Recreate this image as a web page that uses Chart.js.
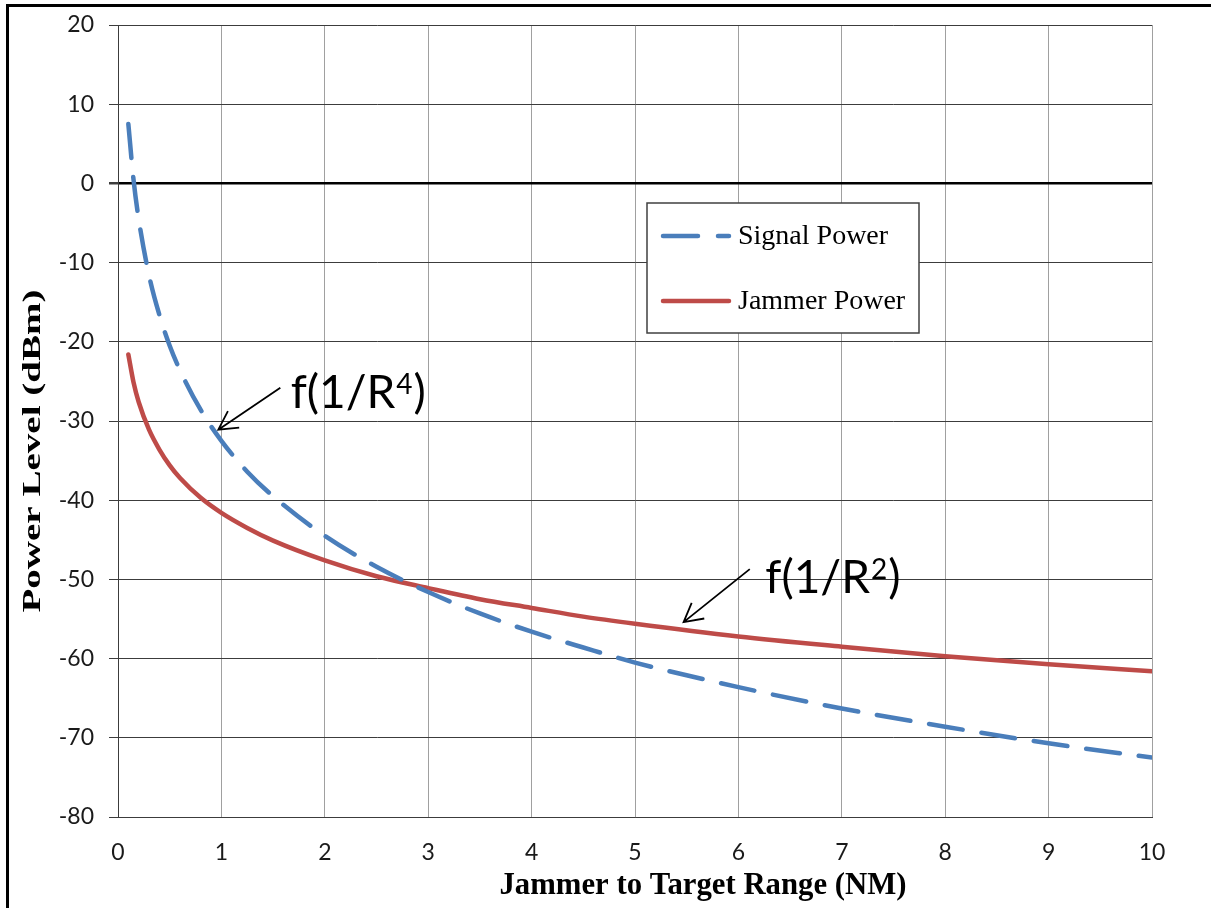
<!DOCTYPE html>
<html>
<head>
<meta charset="utf-8">
<script src="https://cdn.jsdelivr.net/npm/chart.js@4.4.1/dist/chart.umd.min.js"></script>
<style>
  html, body { margin: 0; padding: 0; background: #fff; overflow: hidden; }
  #wrap { position: relative; width: 1211px; height: 908px; }
  #frame { position: absolute; left: 6px; top: 4px; width: 1300px; height: 1000px;
           border-left: 3px solid #000; border-top: 3px solid #000; }
  canvas { position: absolute; left: 0; top: 0; }
</style>
</head>
<body>
<div id="wrap">
  <div id="frame"></div>
  <canvas id="chart" width="1211" height="908"></canvas>
</div>
<script>
// --- DATA ---
const rangeNm   = [0.1, 0.15, 0.2, 0.3, 0.4, 0.5, 0.6, 0.8, 1, 1.25, 1.5, 2, 2.5, 3, 3.5, 4, 4.5, 5, 6, 7, 8, 9, 10];
const signalDbm = [7.5, 0.5, -4.5, -11.6, -16.6, -20.5, -23.6, -28.6, -32.5, -36.4, -39.5, -44.5, -48.4, -51.6, -54.3, -56.6, -58.6, -60.5, -63.6, -66.3, -68.6, -70.7, -72.5];
const jammerDbm = [-21.6, -25.1, -27.6, -31.1, -33.6, -35.6, -37.2, -39.7, -41.6, -43.5, -45.1, -47.6, -49.6, -51.1, -52.5, -53.6, -54.7, -55.6, -57.2, -58.5, -59.7, -60.7, -61.6];
const seriesNames = ['Signal Power', 'Jammer Power'];
const xTickValues = [0, 1, 2, 3, 4, 5, 6, 7, 8, 9, 10];
const yTickValues = [-80, -70, -60, -50, -40, -30, -20, -10, 0, 10, 20];
const xTitle = 'Jammer to Target Range (NM)';
const yTitle = 'Power Level (dBm)';

// annotation callouts, in data units
const callouts = [
    { base: 'f(1/R', sup: '4', textX: 1.67, textY: -28.3, tailX: 1.57, tailY: -25.8, tipX: 0.97, tipY: -31.1 },
    { base: 'f(1/R', sup: '2', textX: 6.26, textY: -51.7, tailX: 6.11, tailY: -48.7, tipX: 5.47, tipY: -55.4 },
];

const BLUE = '#4A7EBB';
const RED = '#BE4B48';
const H_GRID = '#3c3c3c';
const V_GRID = '#a0a0a0';

function toPoints(xs, ys) {
    return xs.map((x, i) => ({ x, y: ys[i] }));
}

// --- CUSTOM DRAWING: legend box, callouts, axis titles ---
function drawArrow(ctx, x1, y1, x2, y2) {
    const ang = Math.atan2(y2 - y1, x2 - x1);
    const head = 21, spread = 0.5;
    ctx.beginPath();
    ctx.moveTo(x1, y1);
    ctx.lineTo(x2, y2);
    ctx.moveTo(x2 - head * Math.cos(ang - spread), y2 - head * Math.sin(ang - spread));
    ctx.lineTo(x2, y2);
    ctx.lineTo(x2 - head * Math.cos(ang + spread), y2 - head * Math.sin(ang + spread));
    ctx.stroke();
}

const extrasPlugin = {
    id: 'extras',
    afterDatasetsDraw(chart) {
        const ctx = chart.ctx;
        const xs = chart.scales.x, ys = chart.scales.y;
        ctx.save();

        // callouts
        callouts.forEach(c => {
            ctx.strokeStyle = '#000';
            ctx.lineWidth = 1.8;
            ctx.setLineDash([]);
            drawArrow(ctx, xs.getPixelForValue(c.tailX), ys.getPixelForValue(c.tailY),
                xs.getPixelForValue(c.tipX), ys.getPixelForValue(c.tipY));
            let tx = xs.getPixelForValue(c.textX);
            const ty = ys.getPixelForValue(c.textY);
            ctx.fillStyle = '#000';
            ctx.textAlign = 'left';
            ctx.textBaseline = 'alphabetic';
            ctx.font = '46px Lato';
            ctx.fillText(c.base, tx, ty);
            tx += ctx.measureText(c.base).width + 1;
            ctx.font = '28px Lato';
            ctx.fillText(c.sup, tx, ty - 14);
            tx += ctx.measureText(c.sup).width + 1;
            ctx.font = '46px Lato';
            ctx.fillText(')', tx, ty);
        });

        // legend box
        const lx = 647, ly = 203, lw = 272, lh = 130;
        ctx.fillStyle = '#fff';
        ctx.fillRect(lx, ly, lw, lh);
        ctx.strokeStyle = '#404040';
        ctx.lineWidth = 1.5;
        ctx.strokeRect(lx, ly, lw, lh);
        const rows = [
            { y: ly + 33, color: BLUE, dash: [35, 20] },
            { y: ly + 98, color: RED, dash: [] },
        ];
        rows.forEach((r, i) => {
            ctx.strokeStyle = r.color;
            ctx.lineWidth = 4.5;
            ctx.lineCap = 'round';
            ctx.setLineDash(r.dash);
            ctx.beginPath();
            ctx.moveTo(lx + 16, r.y);
            ctx.lineTo(lx + 82, r.y);
            ctx.stroke();
            ctx.setLineDash([]);
            ctx.fillStyle = '#000';
            ctx.font = '28px "Liberation Serif"';
            ctx.textAlign = 'left';
            ctx.textBaseline = 'middle';
            ctx.fillText(seriesNames[i], lx + 91, r.y + 1);
        });

        // axis titles
        ctx.fillStyle = '#000';
        ctx.textAlign = 'center';
        ctx.textBaseline = 'middle';
        ctx.font = 'bold 31px "Liberation Serif"';
        const xw = ctx.measureText(xTitle).width;
        ctx.save();
        ctx.translate(703, 886);
        ctx.scale(407 / xw, 1);
        ctx.fillText(xTitle, 0, 0);
        ctx.restore();

        ctx.font = 'bold 25px "Liberation Serif"';
        const yw = ctx.measureText(yTitle).width;
        ctx.save();
        ctx.translate(34, 451);
        ctx.rotate(-Math.PI / 2);
        ctx.scale(323 / yw, 1);
        ctx.fillText(yTitle, 0, 0);
        ctx.restore();

        ctx.restore();
    }
};

// --- CHART ---
document.fonts.load('46px Lato').then(() => {
    const ctx = document.getElementById('chart').getContext('2d');
    new Chart(ctx, {
        type: 'line',
        data: {
            datasets: [
                {
                    label: seriesNames[0],
                    data: toPoints(rangeNm, signalDbm),
                    borderColor: BLUE,
                    borderWidth: 4.5,
                    borderDash: [34, 19],
                    borderCapStyle: 'round',
                    pointRadius: 0,
                    cubicInterpolationMode: 'monotone',
                    fill: false,
                },
                {
                    label: seriesNames[1],
                    data: toPoints(rangeNm, jammerDbm),
                    borderColor: RED,
                    borderWidth: 4.5,
                    borderCapStyle: 'round',
                    pointRadius: 0,
                    cubicInterpolationMode: 'monotone',
                    fill: false,
                },
            ],
        },
        options: {
            responsive: false,
            animation: false,
            layout: { padding: { left: 0, right: 59, top: 25, bottom: 0 } },
            plugins: { legend: { display: false }, tooltip: { enabled: false } },
            scales: {
                x: {
                    type: 'linear',
                    min: xTickValues[0],
                    max: xTickValues[xTickValues.length - 1],
                    afterBuildTicks: s => { s.ticks = xTickValues.map(v => ({ value: v })); },
                    afterFit: s => { s.height = 91; s.paddingLeft = 0; s.paddingRight = 0; },
                    grid: { color: V_GRID, lineWidth: 1, drawTicks: false },
                    border: { color: H_GRID, width: 1 },
                    ticks: {
                        color: '#1a1a1a',
                        font: { family: 'Lato', size: 23 },
                        padding: 22,
                        maxRotation: 0,
                    },
                },
                y: {
                    min: yTickValues[0],
                    max: yTickValues[yTickValues.length - 1],
                    afterBuildTicks: s => { s.ticks = yTickValues.map(v => ({ value: v })); },
                    afterFit: s => { s.width = 118; s.paddingTop = 0; s.paddingBottom = 0; },
                    grid: {
                        color: c => (c.tick && c.tick.value === 0 ? '#000' : H_GRID),
                        lineWidth: c => (c.tick && c.tick.value === 0 ? 2.5 : 1),
                        tickLength: 9,
                        tickColor: H_GRID,
                    },
                    border: { color: H_GRID, width: 1 },
                    ticks: {
                        color: '#1a1a1a',
                        font: { family: 'Lato', size: 23 },
                        padding: 15,
                    },
                },
            },
        },
        plugins: [extrasPlugin],
    });
});
</script>
</body>
</html>
